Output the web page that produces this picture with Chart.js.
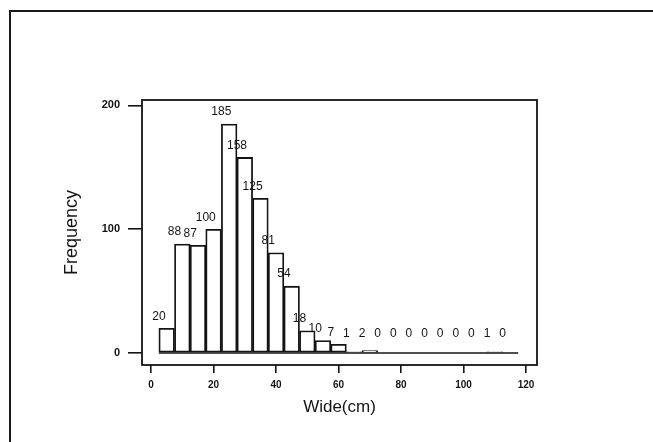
<!DOCTYPE html>
<html>
<head>
<meta charset="utf-8">
<script src="https://cdn.jsdelivr.net/npm/chart.js@4"></script>
<style>
  body { margin: 0; background: #fff; }
  #wrap { position: relative; width: 653px; height: 442px; overflow: hidden; }
  #frame { position: absolute; left: 9px; top: 10px; width: 700px; height: 500px;
           border-left: 2px solid #1a1a1a; border-top: 2px solid #1a1a1a; }
  canvas { position: absolute; left: 0; top: 0; }
</style>
</head>
<body>
<div id="wrap">
  <div id="frame"></div>
  <canvas id="chart" width="653" height="442"></canvas>
</div>
<script>
// histogram bins (width 5), centres 5..115
const binCenters = [5, 10, 15, 20, 25, 30, 35, 40, 45, 50, 55, 60, 65, 70, 75, 80, 85, 90, 95, 100, 105, 110, 115];
const counts = [20, 88, 87, 100, 185, 158, 125, 81, 54, 18, 10, 7, 1, 2, 0, 0, 0, 0, 0, 0, 0, 1, 0];
const binWidth = 5;
const xTicks = [0, 20, 40, 60, 80, 100, 120];
const yTicks = [0, 100, 200];

const ink = '#141414';
const fontFam = '"Liberation Sans", Arial, sans-serif';

const barData = binCenters.map((c, i) => ({ x: c, y: counts[i] }));
const baseLine = [
  { x: binCenters[0] - binWidth / 2, y: 0 },
  { x: binCenters[binCenters.length - 1] + binWidth / 2, y: 0 }
];

// frame around the plot area + count labels over the bars
const boxPlugin = {
  id: 'box',
  afterDatasetsDraw(chart) {
    const ctx = chart.ctx;
    const a = chart.chartArea;
    ctx.save();
    ctx.strokeStyle = ink;
    ctx.lineWidth = 1.8;
    ctx.strokeRect(a.left, a.top, a.right - a.left, a.bottom - a.top);

    const meta = chart.getDatasetMeta(1);
    const base = chart.scales.y.getPixelForValue(0);
    ctx.fillStyle = ink;
    ctx.font = '12px ' + fontFam;
    ctx.textAlign = 'center';
    ctx.textBaseline = 'middle';
    meta.data.forEach((bar, i) => {
      const y = Math.min(bar.y - 12, base - 19);
      ctx.fillText(String(counts[i]), bar.x - bar.width / 2, y);
    });
    ctx.restore();
  }
};

new Chart(document.getElementById('chart'), {
  type: 'bar',
  data: {
    datasets: [
      {
        type: 'line',
        data: baseLine,
        borderColor: ink,
        borderWidth: 1.6,
        pointRadius: 0,
        order: 0
      },
      {
        data: barData,
        backgroundColor: '#fff',
        borderColor: ink,
        borderWidth: 1.8,
        borderSkipped: false,
        barPercentage: 1,
        categoryPercentage: 1,
        grouped: false,
        order: 1
      }
    ]
  },
  options: {
    responsive: false,
    animation: false,
    layout: { padding: { left: 0, top: 100, right: 116, bottom: 0 } },
    plugins: { legend: { display: false }, tooltip: { enabled: false } },
    scales: {
      x: {
        type: 'linear',
        min: -2.9,
        max: 123.5,
        offset: false,
        afterBuildTicks: s => { s.ticks = xTicks.map(v => ({ value: v })); },
        afterFit: s => { s.height = 77; },
        grid: { offset: false, drawOnChartArea: false, drawTicks: true, tickLength: 8, tickColor: ink, lineWidth: 1.6 },
        border: { display: false },
        ticks: { color: ink, padding: 6, maxRotation: 0, font: { family: fontFam, size: 10, weight: 'bold' } },
        title: { display: true, text: 'Wide(cm)', color: ink, padding: { top: 0, bottom: 24 },
                 font: { family: fontFam, size: 17 } }
      },
      y: {
        min: -9.7,
        max: 204.4,
        afterBuildTicks: s => { s.ticks = yTicks.map(v => ({ value: v })); },
        afterFit: s => { s.width = 142; },
        grid: { drawOnChartArea: false, drawTicks: true, tickLength: 14, tickColor: ink, lineWidth: 1.6 },
        border: { display: false },
        ticks: { color: ink, padding: 8, font: { family: fontFam, size: 11, weight: 'bold' } },
        title: { display: true, text: 'Frequency', color: ink, padding: { top: 61, bottom: 0 },
                 font: { family: fontFam, size: 18 } }
      }
    }
  },
  plugins: [boxPlugin]
});
</script>
</body>
</html>
